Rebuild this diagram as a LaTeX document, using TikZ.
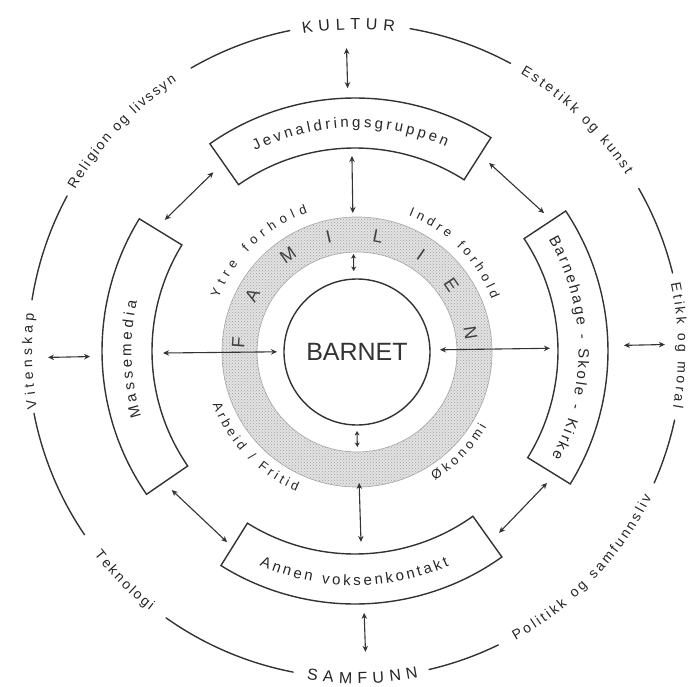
\documentclass[tikz,border=0pt]{standalone}
\usepackage{fontspec}
\setmainfont{Liberation Sans}
\usetikzlibrary{decorations.text,arrows.meta,patterns}
\tikzset{
  outerline/.style={line width=1.4pt, draw=black!80},
  boxline/.style={line width=1.4pt, draw=black!80},
  arr/.style={line width=1.1pt, draw=black!80, {Stealth[length=6pt,width=5.5pt]}-{Stealth[length=6pt,width=5.5pt]}},
  smallarr/.style={line width=1.1pt, draw=black!80, {Stealth[length=4.5pt,width=5pt]}-{Stealth[length=4.5pt,width=5pt]}},
  famletter/.style={font=\fontsize{18}{20}\selectfont, text=black!75, inner sep=0pt},
}
\newcommand{\arctext}[6]{%
  \path[decorate, decoration={text along path, text color=black!85,
    text={|\fontsize{#4}{#4}\selectfont|#6}, text align={fit to path}, raise=#5}]
    (#1:#3) arc[start angle=#1, end angle=#2, radius=#3];
}
\begin{document}
\begin{tikzpicture}[x=1pt,y=1pt,line cap=round]
\useasboundingbox (-355,-335) rectangle (339,351);

% outer circle, broken for labels
\foreach \s/\e in {13.8/29.8, 61.6/80.3, 101.5/120.1, 151.7/171, 191/214.2, 234.7/259.1, 283.1/296, 336.2/347.8}
  \draw[outerline] (\s:327) arc[start angle=\s, end angle=\e, radius=327];

% curved boxes
\foreach \a/\b in {57.5/125, 148.5/214.5, -31.7/33.6, 238/305.5}
  \draw[boxline] (\a:203) arc[start angle=\a,end angle=\b,radius=203] -- (\b:253)
        arc[start angle=\b,end angle=\a,radius=253] -- cycle;

% FAMILIEN ring
\begin{scope}[shift={(2,-1)}]
  \fill[gray!22, even odd rule] (0,0) circle[radius=135] (0,0) circle[radius=100];
  \path[pattern=crosshatch dots, pattern color=gray!75, even odd rule] (0,0) circle[radius=135] (0,0) circle[radius=100];
  \draw[gray!65, line width=0.7pt] (0,0) circle[radius=135] (0,0) circle[radius=100];
\end{scope}

\foreach \l/\a [count=\i] in {F/176,A/151.5,M/125,I/103,L/78.6,I/55.7,E/34.5,N/9.1}
  \node[famletter, rotate=\a-90] (fam\i) at (\a:117) {\l};

% centre
\node[circle, draw=black!80, line width=1.4pt, minimum size=146pt, inner sep=0pt,
      font=\fontsize{25}{30}\selectfont, text=black!80] (barnet) at (2,-1) {BARNET};

% outer arrows (box <-> outer circle)
\coordinate (oT1) at (91.6:263); \coordinate (oT2) at (91.6:303);
\coordinate (oL1) at (181.2:265); \coordinate (oL2) at (181.2:307);
\coordinate (oR1) at (1.2:269); \coordinate (oR2) at (1.2:310);
\coordinate (oB1) at (272:262); \coordinate (oB2) at (272:301);
\draw[arr] (oT1) -- (oT2);
\draw[arr] (oL1) -- (oL2);
\draw[arr] (oR1) -- (oR2);
\draw[arr] (oB1) -- (oB2);

% inner arrows
\coordinate (iT1) at (90.9:138); \coordinate (iT2) at (90.9:195);
\coordinate (sT1) at (90.9:80); \coordinate (sT2) at (90.9:97);
\coordinate (iL1) at (180.6:78); \coordinate (iL2) at (180.6:192);
\coordinate (iR1) at (0.8:85); \coordinate (iR2) at (0.8:195);
\coordinate (sB1) at (271.4:80); \coordinate (sB2) at (271.4:96);
\coordinate (iB1) at (271.8:132); \coordinate (iB2) at (271.8:191);
\draw[arr] (iT1) -- (iT2);
\draw[smallarr] (sT1) -- (sT2);
\draw[arr] (iL1) -- (iL2);
\draw[arr] (iR1) -- (iR2);
\draw[smallarr] (sB1) -- (sB2);
\draw[arr] (iB1) -- (iB2);

% arrows between boxes
\coordinate (dTL1) at (145.4:231); \coordinate (dTL2) at (128.4:228);
\coordinate (dTR1) at (54.5:231); \coordinate (dTR2) at (36.1:234);
\coordinate (dBL1) at (217.2:230); \coordinate (dBL2) at (236.2:230);
\coordinate (dBR1) at (325.5:233); \coordinate (dBR2) at (308.4:232);
\draw[arr] (dTL1) -- (dTL2);
\draw[arr] (dTR1) -- (dTR2);
\draw[arr] (dBL1) -- (dBL2);
\draw[arr] (dBR1) -- (dBR2);

% outer labels
\arctext{99.3}{83}{327}{16}{-5.5pt}{KULTUR}
\arctext{261.6}{281}{327}{16}{-5.5pt}{SAMFUNN}
\arctext{150}{123.5}{327}{14}{-4pt}{Religion og livssyn}
\arctext{59.2}{33}{327}{14}{-4pt}{Estetikk og kunst}
\arctext{12}{-10}{327}{14}{-4pt}{Etikk og moral}
\arctext{299}{333.7}{327}{14}{-4pt}{Politikk og samfunnsliv}
\arctext{218}{231.7}{327}{14}{-4pt}{Teknologi}
\arctext{190.2}{173.4}{327}{14}{-4pt}{Vitenskap}

% box labels
\arctext{116.5}{66}{228}{15}{-4.5pt}{Jevnaldringsgruppen}
\arctext{30}{-28.3}{228}{15}{-4.5pt}{Barnehage - Skole - Kirke}
\arctext{245.9}{293.7}{230}{15}{-4.5pt}{Annen voksenkontakt}
\arctext{197}{167.3}{228}{15}{-4.5pt}{Massemedia}

% family labels
\arctext{159}{109}{150}{13}{-4pt}{Ytre forhold}
\arctext{68.4}{20.8}{150}{13}{-4pt}{Indre forhold}
\arctext{200.6}{247.4}{148}{13}{-4pt}{Arbeid / Fritid}
\arctext{301.6}{330}{148}{13}{-4pt}{Økonomi}
\end{tikzpicture}
\end{document}
